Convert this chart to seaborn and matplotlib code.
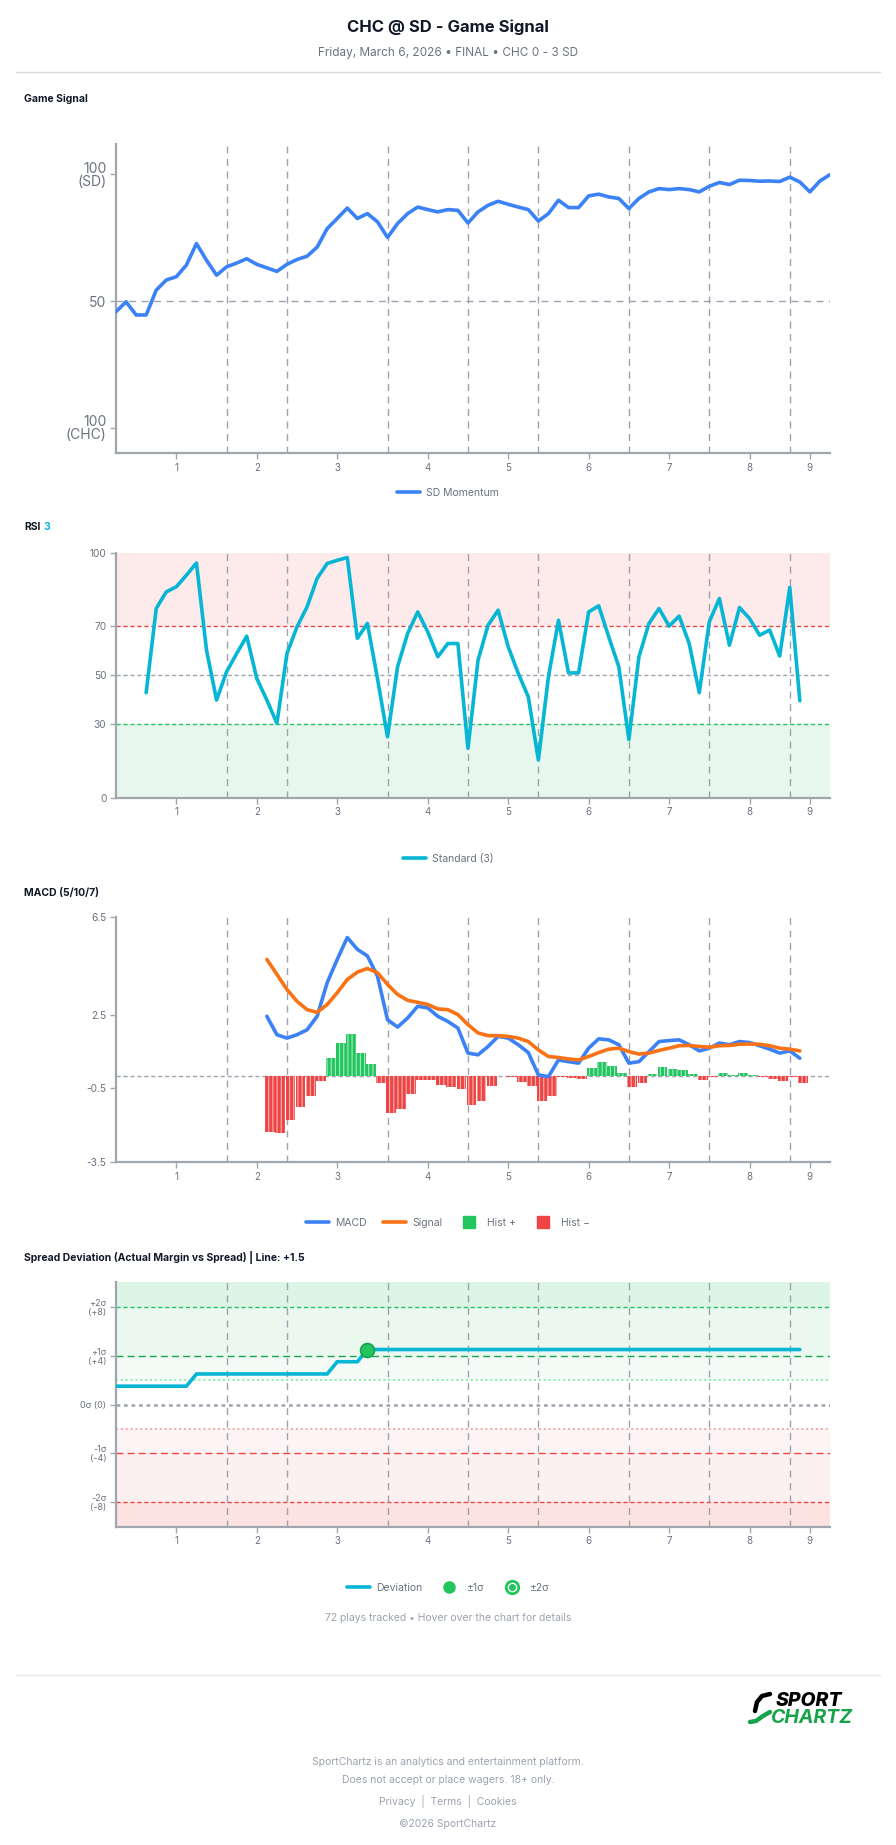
import numpy as np
import pandas as pd
import seaborn as sns
import matplotlib.pyplot as plt
from matplotlib.lines import Line2D

# x axis = play index (72 plays tracked)
inning_ticks = [6, 14, 22, 31, 39, 47, 55, 63, 69]
inning_labels = ['1', '2', '3', '4', '5', '6', '7', '8', '9']
half_inning_breaks = [11, 17, 27, 35, 42, 51, 59, 67]

# SD momentum, plays 0..71
momentum = [45.8, 49.7, 44.5, 44.5, 54.3, 58.3, 59.6, 64.2, 72.7, 66.1,
            60.2, 63.5, 65.0, 66.7, 64.5, 63.1, 61.7, 64.5, 66.4, 67.7,
            71.3, 78.6, 82.6, 86.7, 82.6, 84.5, 81.3, 75.1, 80.6, 84.5,
            87.1, 86.1, 85.2, 86.1, 85.8, 80.8, 85.2, 87.8, 89.4, 88.2,
            87.1, 86.1, 81.6, 84.5, 89.8, 86.9, 86.9, 91.5, 92.2, 91.1,
            90.5, 86.5, 90.5, 93.1, 94.4, 94.0, 94.4, 94.0, 93.1, 95.3,
            96.8, 96.0, 97.7, 97.6, 97.3, 97.4, 97.2, 98.9, 97.0, 93.1,
            97.4, 99.9]

# RSI(3), plays 3..68
rsi_start = 3
rsi = [42.8, 77.2, 84.0, 86.1, 90.8, 95.8, 60.2,
       39.8, 51.4, 58.8, 65.9, 48.6, 39.8, 30.3, 58.8, 69.7, 77.9,
       89.5, 95.6, 96.9, 98.0, 65.0, 71.1, 48.6, 24.8, 53.4, 67.0,
       75.8, 67.7, 57.5, 62.9, 62.9, 20.1, 56.1, 70.4, 76.5, 61.6,
       50.7, 41.1, 15.3, 49.3, 72.4, 50.9, 50.9, 75.8, 78.3, 65.6,
       53.4, 23.7, 57.5, 71.1, 77.2, 70.0, 74.1, 62.9, 42.8, 71.8,
       81.3, 62.2, 77.6, 73.1, 66.3, 68.4, 57.8, 85.8, 39.5]

# MACD (5/10/7), plays 15..68
macd_start = 15
macd = [2.44, 1.69, 1.55, 1.69, 1.89, 2.44, 3.81, 4.76, 5.65, 5.17,
        4.90, 4.08, 2.30, 2.00, 2.37, 2.85, 2.78, 2.44, 2.23, 1.96,
        0.94, 0.87, 1.21, 1.62, 1.55, 1.28, 0.96, 0.05, -0.02, 0.66,
        0.59, 0.53, 1.14, 1.52, 1.48, 1.28, 0.53, 0.59, 1.00, 1.41,
        1.45, 1.48, 1.28, 1.03, 1.14, 1.35, 1.28, 1.41, 1.37, 1.24,
        1.10, 0.94, 1.03, 0.73]
signal = [4.76, 4.15, 3.53, 3.05, 2.71, 2.60, 2.92, 3.40, 3.94, 4.24,
          4.39, 4.22, 3.74, 3.33, 3.09, 3.01, 2.92, 2.74, 2.71, 2.51,
          2.10, 1.76, 1.65, 1.65, 1.62, 1.55, 1.41, 1.07, 0.80, 0.76,
          0.70, 0.66, 0.80, 0.96, 1.10, 1.14, 1.00, 0.90, 0.94, 1.05,
          1.14, 1.24, 1.25, 1.21, 1.18, 1.24, 1.25, 1.30, 1.31, 1.30,
          1.24, 1.14, 1.10, 1.03]
hist = [-2.27, -2.30, -1.79, -1.25, -0.80, -0.18, 0.73, 1.37, 1.73, 0.94,
        0.49, -0.29, -1.49, -1.33, -0.74, -0.15, -0.15, -0.38, -0.45, -0.53,
        -1.18, -1.00, -0.40, -0.01, -0.04, -0.23, -0.40, -1.01, -0.80, -0.05,
        -0.09, -0.13, 0.33, 0.56, 0.40, 0.12, -0.45, -0.26, 0.10, 0.36,
        0.30, 0.26, 0.08, -0.15, -0.03, 0.12, 0.03, 0.11, 0.04, -0.04,
        -0.11, -0.20, -0.04, -0.29]

# spread deviation (margin vs +1.5 line), plays 0..68
deviation = [1.5, 1.5, 1.5, 1.5, 1.5, 1.5, 1.5, 1.5, 2.5, 2.5,
             2.5, 2.5, 2.5, 2.5, 2.5, 2.5, 2.5, 2.5, 2.5, 2.5,
             2.5, 2.5, 3.5, 3.5, 3.5, 4.5, 4.5, 4.5, 4.5, 4.5,
             4.5, 4.5, 4.5, 4.5, 4.5, 4.5, 4.5, 4.5, 4.5, 4.5,
             4.5, 4.5, 4.5, 4.5, 4.5, 4.5, 4.5, 4.5, 4.5, 4.5,
             4.5, 4.5, 4.5, 4.5, 4.5, 4.5, 4.5, 4.5, 4.5, 4.5,
             4.5, 4.5, 4.5, 4.5, 4.5, 4.5, 4.5, 4.5, 4.5]
sigma_play = 25

BLUE = '#3b82f6'
CYAN = '#06b6d4'
ORANGE = '#f97316'
GREEN = '#22c55e'
RED = '#ef4444'
AXIS = '#a1a5ad'
TXT = '#6b7280'
DARK = '#111827'

sns.set_theme(style='white')
plt.rcParams['font.family'] = ['Inter', 'DejaVu Sans']
plt.rcParams['hatch.linewidth'] = 0.8

W, H = 896, 1845
fig = plt.figure(figsize=(W / 100, H / 100), dpi=100)
fig.patch.set_facecolor('white')


def add_ax(top, bottom):
    return fig.add_axes([116 / W, 1 - bottom / H, 714 / W, (bottom - top) / H])


def style_ax(ax, ysize=7.3):
    for s in ['top', 'right']:
        ax.spines[s].set_visible(False)
    for s in ['left', 'bottom']:
        ax.spines[s].set_color(AXIS)
        ax.spines[s].set_linewidth(1.6)
    ax.set_xlim(0, 71)
    ax.set_xticks(inning_ticks)
    ax.set_xticklabels(inning_labels)
    ax.tick_params(axis='both', colors=AXIS, labelcolor=TXT, length=4, width=1,
                   left=True, bottom=True, pad=3)
    ax.tick_params(axis='x', labelsize=7)
    ax.tick_params(axis='y', labelsize=ysize)
    for b in half_inning_breaks:
        ax.axvline(b, color='#9ca3af', ls=(0, (5, 4)), lw=1, zorder=1)
    ax.set_xlabel('')
    ax.set_ylabel('')
    ax.grid(False)


def legend(ax, handles, labels, ypix):
    ax.legend(handles, labels, loc='center', bbox_to_anchor=(448 / W, 1 - ypix / H),
              bbox_transform=fig.transFigure, ncol=len(handles), frameon=False,
              fontsize=7.5, labelcolor=TXT, handlelength=2.2, columnspacing=1.5,
              handletextpad=0.6)


def panel_label(text, ypix):
    fig.text(24 / W, 1 - ypix / H, text, fontsize=7.5, fontweight='bold',
             color=DARK, ha='left', va='center')


# header
fig.text(0.5, 1 - 27 / H, 'CHC @ SD - Game Signal', ha='center', va='center',
         fontsize=12, fontweight='bold', color=DARK)
fig.text(0.5, 1 - 53 / H, 'Friday, March 6, 2026 \u2022 FINAL \u2022 CHC 0 - 3 SD',
         ha='center', va='center', fontsize=8.5, color=TXT)
fig.add_artist(Line2D([16 / W, 880 / W], [1 - 72 / H, 1 - 72 / H], color='#d9dbe0', lw=1))

# ---- Game Signal ----
panel_label('Game Signal', 99)
ax1 = add_ax(144, 453)
df_mom = pd.DataFrame({'play': np.arange(len(momentum)), 'value': momentum})
sns.lineplot(data=df_mom, x='play', y='value', ax=ax1, color=BLUE, linewidth=2.6, zorder=3)
ax1.axhline(50, color='#9ca3af', ls=(0, (5, 4)), lw=1, zorder=1)
ax1.set_ylim(-10, 112)
ax1.set_yticks([0, 50, 100])
ax1.set_yticklabels(['100\n(CHC)', '50', '100\n(SD)'], linespacing=0.9)
style_ax(ax1, ysize=10)
legend(ax1, [Line2D([0], [0], color=BLUE, lw=2.6)], ['SD Momentum'], 493)

# ---- RSI ----
fig.text(24 / W, 1 - 527 / H, 'RSI', fontsize=7.5, fontweight='bold', color=DARK,
         ha='left', va='center')
fig.text(43 / W, 1 - 527 / H, '3', fontsize=7.5, fontweight='bold', color=CYAN,
         ha='left', va='center')
ax2 = add_ax(552.7, 797.5)
ax2.axhspan(70, 100, color='#fdeaea', lw=0, zorder=0)
ax2.axhspan(0, 30, color='#e7f7ed', lw=0, zorder=0)
ax2.axhline(70, color=RED, ls=(0, (3, 2)), lw=1, zorder=1)
ax2.axhline(50, color='#9ca3af', ls=(0, (3, 2)), lw=1, zorder=1)
ax2.axhline(30, color=GREEN, ls=(0, (3, 2)), lw=1, zorder=1)
df_rsi = pd.DataFrame({'play': np.arange(len(rsi)) + rsi_start, 'value': rsi})
sns.lineplot(data=df_rsi, x='play', y='value', ax=ax2, color=CYAN, linewidth=2.6, zorder=3)
ax2.set_ylim(0, 100)
ax2.set_yticks([0, 30, 50, 70, 100])
style_ax(ax2)
legend(ax2, [Line2D([0], [0], color=CYAN, lw=2.6)], ['Standard (3)'], 859)

# ---- MACD ----
panel_label('MACD (5/10/7)', 893)
ax3 = add_ax(916.7, 1162)
ax3.axhline(0, color='#9ca3af', ls=(0, (3, 2)), lw=1, zorder=1)
plays_m = np.arange(len(macd)) + macd_start
hist_arr = np.array(hist)
pos = hist_arr >= 0
ax3.bar(plays_m[pos] + 0.35, hist_arr[pos], width=0.98, color=GREEN, edgecolor='#a7e8bf',
        hatch='||||', lw=0, zorder=2)
ax3.bar(plays_m[~pos] + 0.35, hist_arr[~pos], width=0.98, color=RED, edgecolor='#f8b4b4',
        hatch='||||', lw=0, zorder=2)
df_macd = pd.DataFrame({'play': plays_m, 'macd': macd, 'signal': signal})
sns.lineplot(data=df_macd, x='play', y='macd', ax=ax3, color=BLUE, linewidth=2.6, zorder=4)
sns.lineplot(data=df_macd, x='play', y='signal', ax=ax3, color=ORANGE, linewidth=2.6, zorder=4)
ax3.set_ylim(-3.5, 6.5)
ax3.set_yticks([-3.5, -0.5, 2.5, 6.5])
ax3.set_yticklabels(['-3.5', '-0.5', '2.5', '6.5'])
style_ax(ax3)
legend(ax3, [Line2D([0], [0], color=BLUE, lw=2.6), Line2D([0], [0], color=ORANGE, lw=2.6),
             Line2D([0], [0], marker='s', ls='', ms=9, color=GREEN),
             Line2D([0], [0], marker='s', ls='', ms=9, color=RED)],
       ['MACD', 'Signal', 'Hist +', 'Hist \u2212'], 1223)

# ---- Spread Deviation ----
panel_label('Spread Deviation (Actual Margin vs Spread) | Line: +1.5', 1257)
ax4 = add_ax(1282.3, 1526.7)
ax4.axhspan(8, 10, color='#ddf5e6', lw=0, zorder=0)
ax4.axhspan(4, 8, color='#eaf8f0', lw=0, zorder=0)
ax4.axhspan(2, 4, color='#f4fbf7', lw=0, zorder=0)
ax4.axhspan(-4, -2, color='#fdf5f5', lw=0, zorder=0)
ax4.axhspan(-8, -4, color='#fdf0f0', lw=0, zorder=0)
ax4.axhspan(-10, -8, color='#fde2e2', lw=0, zorder=0)
ax4.axhline(8, color=GREEN, ls=(0, (3, 2)), lw=1, zorder=1)
ax4.axhline(4, color='#16a34a', ls=(0, (5, 3)), lw=1, zorder=1)
ax4.axhline(2, color='#86efac', ls=(0, (1, 1.5)), lw=1.4, zorder=1)
ax4.axhline(0, color='#9ca3af', ls=(0, (1.5, 1.5)), lw=1.8, zorder=1)
ax4.axhline(-2, color='#fca5a5', ls=(0, (1, 1.5)), lw=1.4, zorder=1)
ax4.axhline(-4, color=RED, ls=(0, (5, 3)), lw=1, zorder=1)
ax4.axhline(-8, color=RED, ls=(0, (3, 2)), lw=1, zorder=1)
df_dev = pd.DataFrame({'play': np.arange(len(deviation)), 'value': deviation})
sns.lineplot(data=df_dev, x='play', y='value', ax=ax4, color=CYAN, linewidth=2.6, zorder=3)
ax4.plot([sigma_play], [deviation[sigma_play]], marker='o', ms=10, color=GREEN,
         mec='#16a34a', mew=1.2, zorder=5)
ax4.set_ylim(-10, 10)
ax4.set_yticks([-8, -4, 0, 4, 8])
ax4.set_yticklabels(['-2\u03c3\n(-8)', '-1\u03c3\n(-4)', '0\u03c3 (0)', '+1\u03c3\n(+4)',
                     '+2\u03c3\n(+8)'], linespacing=1.0)
style_ax(ax4, ysize=6.5)
ring = Line2D([0], [0], marker='o', ls='', ms=9, mfc='white', mec=GREEN, mew=2)
dot = Line2D([0], [0], marker='o', ls='', ms=4, color=GREEN)
legend(ax4, [Line2D([0], [0], color=CYAN, lw=2.6),
             Line2D([0], [0], marker='o', ls='', ms=8, color=GREEN), (ring, dot)],
       ['Deviation', '\u00b11\u03c3', '\u00b12\u03c3'], 1588)

fig.text(0.5, 1 - 1618 / H, '72 plays tracked \u2022 Hover over the chart for details',
         ha='center', va='center', fontsize=7.5, color='#9ca3af')

# ---- footer ----
fig.add_artist(Line2D([16 / W, 880 / W], [1 - 1675 / H, 1 - 1675 / H], color='#e5e7eb', lw=1))
logo = fig.add_axes([745 / W, 1 - 1726 / H, 120 / W, 36 / H])
logo.set_xlim(745, 865)
logo.set_ylim(1726, 1690)
logo.axis('off')
logo.plot([770, 762, 757, 755], [1694, 1696, 1702, 1711], color='black', lw=3.2,
          solid_capstyle='round')
logo.plot([750, 756, 763, 770], [1722, 1721, 1716, 1712], color='#16a34a', lw=3.2,
          solid_capstyle='round')
logo.text(776, 1701, 'SPORT', fontsize=14, fontweight='heavy', fontstyle='italic',
          color='black', va='center', ha='left')
logo.text(771, 1718, 'CHARTZ', fontsize=14, fontweight='bold', fontstyle='italic',
          color='#16a34a', va='center', ha='left')

foot = ['SportChartz is an analytics and entertainment platform.',
        'Does not accept or place wagers. 18+ only.',
        'Privacy  |  Terms  |  Cookies',
        '\u00a92026 SportChartz']
for t, yp in zip(foot, [1762, 1780, 1801, 1824]):
    fig.text(0.5, 1 - yp / H, t, ha='center', va='center', fontsize=7.5, color='#9ca3af')

fig.savefig('out.png', dpi=100, facecolor='white')
